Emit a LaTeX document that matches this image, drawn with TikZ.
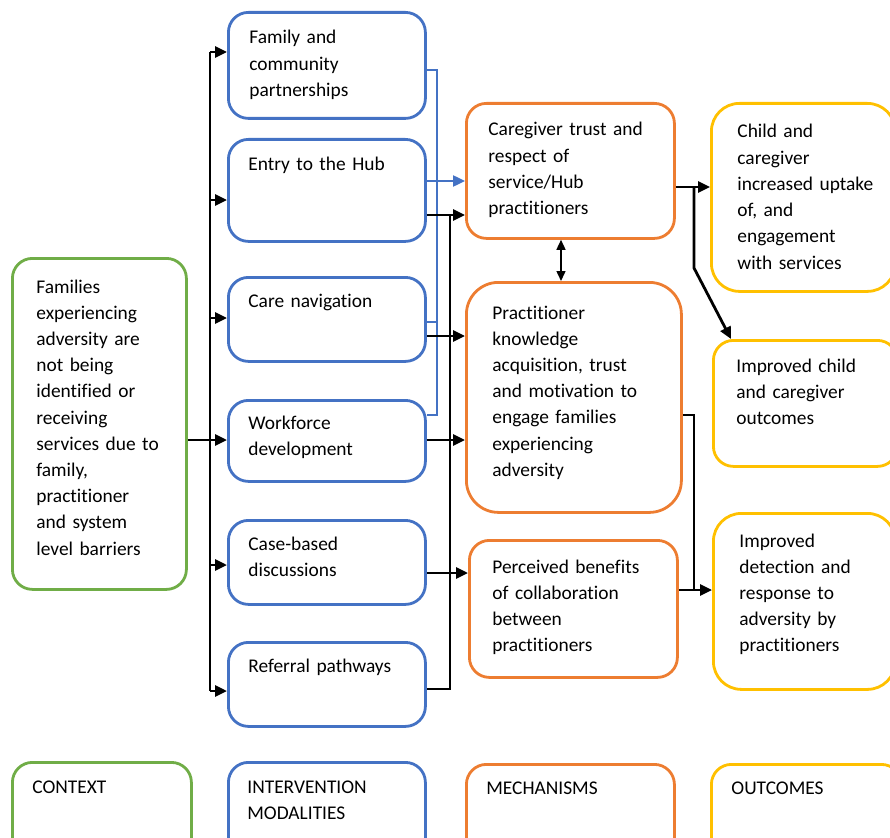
\documentclass[tikz,border=0pt]{standalone}
\usepackage{fontspec}
\setmainfont{Carlito}[RawFeature={-liga;-clig;-calt;-dlig}]
\usetikzlibrary{arrows.meta}
\definecolor{ctxgreen}{HTML}{70AD47}
\definecolor{modblue}{HTML}{4472C4}
\definecolor{mechorange}{HTML}{ED7D31}
\definecolor{outyellow}{HTML}{FFC000}
\tikzset{
  box/.style={draw, rounded corners=20pt, line width=2.8pt, anchor=north west, inner sep=0pt},
  ctxbox/.style={box, draw=ctxgreen},
  modbox/.style={box, draw=modblue},
  mechbox/.style={box, draw=mechorange},
  outbox/.style={box, draw=outyellow},
  txt/.style={anchor=base west, align=left, inner sep=0pt, text width=#1,
    font=\fontsize{19.4}{26.2}\selectfont},
  txt/.default=180pt,
}
\begin{document}
\begin{tikzpicture}[x=1pt, y=-1pt, >={Triangle[length=12pt,width=11pt]}, line width=2.8pt]
\useasboundingbox (0,0) rectangle (890,837);
% context
\node[ctxbox, minimum width=174, minimum height=331] (ctx) at (11,257) {};
\node[txt=150] (ctx-t) at (35,293) {Families\\experiencing\\adversity are\\not being\\identified or\\receiving\\services due to\\family,\\practitioner\\and system\\level barriers};
% modalities
\node[modbox, minimum width=197, minimum height=106] (fam) at (227,11) {};
\node[modbox, minimum width=197, minimum height=102] (entry) at (227,138) {};
\node[modbox, minimum width=197, minimum height=84] (care) at (227,276) {};
\node[modbox, minimum width=197, minimum height=81] (work) at (227,399) {};
\node[modbox, minimum width=197, minimum height=84] (case) at (227,519) {};
\node[modbox, minimum width=197, minimum height=84] (ref) at (227,641) {};
\node[txt] (fam-t) at (248,44) {Family and\\community\\partnerships};
\node[txt] (entry-t) at (247,170) {Entry to the Hub};
\node[txt] (care-t) at (247,307) {Care navigation};
\node[txt] (work-t) at (247,429) {Workforce\\development};
\node[txt] (case-t) at (247,550) {Case-based\\discussions};
\node[txt] (ref-t) at (247,672) {Referral pathways};
% mechanisms
\node[mechbox, minimum width=208, minimum height=135] (trust) at (465,102) {};
\node[mechbox, minimum width=215, minimum height=230, rounded corners=32pt] (prac) at (465,281) {};
\node[mechbox, minimum width=208, minimum height=137] (ben) at (468,539) {};
\node[txt] (trust-t) at (487,136) {Caregiver trust and\\respect of\\service/Hub\\practitioners};
\node[txt] (prac-t) at (491,319) {Practitioner\\knowledge\\acquisition, trust\\and motivation to\\engage families\\experiencing\\adversity};
\node[txt] (ben-t) at (491,573) {Perceived benefits\\of collaboration\\between\\practitioners};
% outcomes
\node[outbox, minimum width=184, minimum height=188, rounded corners=28pt] (child) at (710,102) {};
\node[outbox, minimum width=184, minimum height=126] (imp) at (712,339) {};
\node[outbox, minimum width=182, minimum height=176, rounded corners=28pt] (det) at (712,512) {};
\node[txt] (child-t) at (736,138) {Child and\\caregiver\\increased uptake\\of, and\\engagement\\with services};
\node[txt] (imp-t) at (735,372) {Improved child\\and caregiver\\outcomes};
\node[txt] (det-t) at (738,547) {Improved\\detection and\\response to\\adversity by\\practitioners};
% legend
\node[ctxbox, minimum width=179, minimum height=100] (ctx-l) at (11,761) {};
\node[modbox, minimum width=197, minimum height=100] (mod-l) at (227,761) {};
\node[mechbox, minimum width=208, minimum height=100] (mech-l) at (465,763) {};
\node[outbox, minimum width=190, minimum height=100] (out-l) at (710,763) {};
\node[txt] (ctx-lt) at (31,793) {CONTEXT};
\node[txt] (mod-lt) at (246,793) {INTERVENTION\\MODALITIES};
\node[txt] (mech-lt) at (485,794) {MECHANISMS};
\node[txt] (out-lt) at (730,794) {OUTCOMES};
% context to modalities
\coordinate (lbus) at (210,440);
\draw (ctx.east |- lbus) -- (lbus);
\draw (lbus |- 0,52) -- (lbus |- 0,691);
\foreach \b/\y in {fam/52, entry/200, care/318, work/440, case/565, ref/691}
  \draw[->] (lbus |- 0,\y) -- (\b.west |- 0,\y);
% modalities to mechanisms
\coordinate (bbus) at (437,70);
\draw[modblue, line width=2.4pt] (fam.east |- bbus) -- (bbus) -- (bbus |- 0,415) -- (work.east |- 0,415);
\draw[modblue, line width=2.4pt] (care.east |- 0,322) -- (bbus |- 0,322);
\draw[modblue, line width=2.4pt, ->] (entry.east |- 0,181) -- (trust.west |- 0,181);
\coordinate (rbus) at (450,215);
\foreach \s/\t/\y in {entry/trust/215, care/prac/336, work/prac/440, case/ben/573}
  \draw[->] (\s.east |- 0,\y) -- (\t.west |- 0,\y);
\draw (rbus) -- (rbus |- 0,689) -- (ref.east |- 0,689);
\draw[line width=1.5pt, <->, >={Triangle[length=10pt,width=9pt]}] (trust.south -| 561,0) -- (prac.north -| 561,0);
% mechanisms to outcomes
\coordinate (obus) at (694,187);
\draw[->] (trust.east |- obus) -- (child.west |- obus);
\draw[->] (obus) -- (694,268) -- (imp.north -| 731,0);
\draw (prac.east |- 0,415) -- (694,415) -- (694,590);
\draw[->] (ben.east |- 0,590) -- (det.west |- 0,590);
\end{tikzpicture}
\end{document}
